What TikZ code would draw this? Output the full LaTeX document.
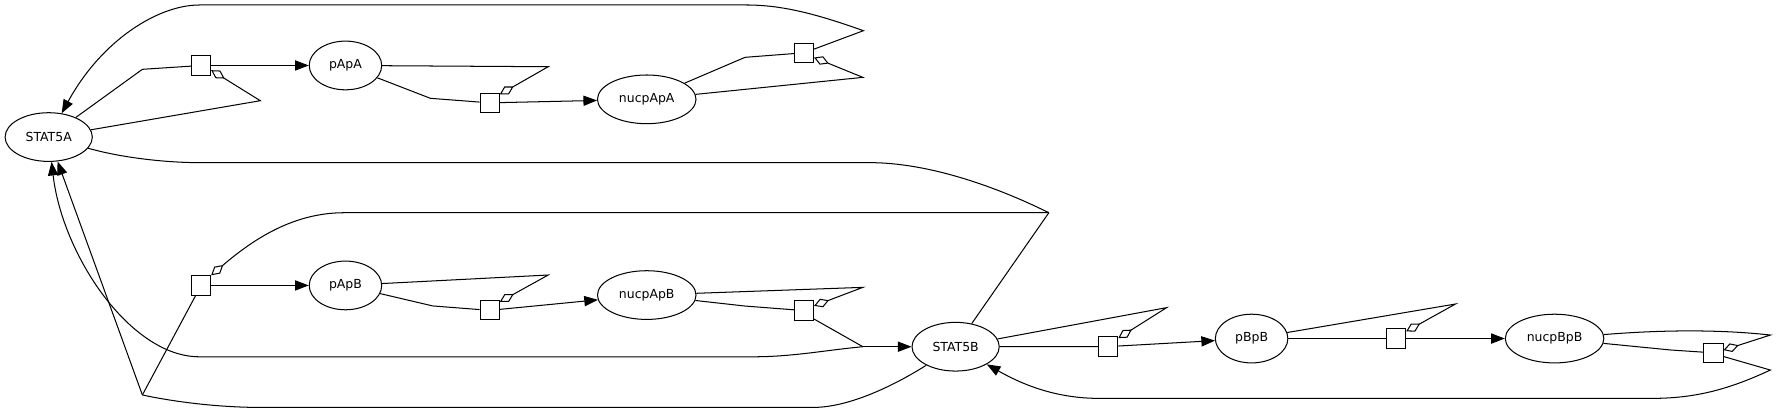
\documentclass[tikz,border=0pt]{standalone}
\usepackage{fontspec}
\setmainfont{DejaVu Sans}
\usetikzlibrary{arrows.meta,shapes.geometric,positioning}
\begin{document}
\begin{tikzpicture}[x=1pt,y=-1pt,line width=0.9pt,node distance=127.5pt,
    >={Triangle[length=12pt,width=9pt]},
    species/.style={ellipse,draw,minimum height=43pt,inner sep=0pt,font=\fontsize{11}{13}\selectfont},
    reaction/.style={rectangle,draw,minimum size=17pt,inner sep=0pt},
    modifier/.style={-{Diamond[open,length=14pt,width=8pt]}}]
  \useasboundingbox (0,0) rectangle (1568,365);
  \node (STAT5A) [species,minimum width=77pt] at (43,121) {STAT5A};
  \node (sq1) [reaction] at (177.5,57.8) {};
  \node (pApA) [species,minimum width=64pt,right of=sq1] {pApA};
  \node (sq2) [reaction] at (432.3,90.8) {};
  \node (nucpApA) [species,minimum width=87pt] at (571,87.7) {nucpApA};
  \node (sq3) [reaction] at (709.8,46.6) {};
  \node (sq4) [reaction] at (177.5,252) {};
  \node (pApB) [species,minimum width=64pt,right of=sq4] {pApB};
  \node (sq5) [reaction] at (432.3,274) {};
  \node (nucpApB) [species,minimum width=87pt] at (571,260.5) {nucpApB};
  \node (sq6) [reaction] at (709.8,274.2) {};
  \node (STAT5B) [species,minimum width=77pt] at (843.7,306.1) {STAT5B};
  \node (sq7) [reaction] at (978.4,306) {};
  \node (pBpB) [species,minimum width=64pt] at (1105,298.9) {pBpB};
  \node (sq8) [reaction,right of=pBpB] {};
  \node (nucpBpB) [species,minimum width=87pt] at (1372.5,298.9) {nucpBpB};
  \node (sq9) [reaction] at (1512.7,311.5) {};
  \coordinate (k1) at (125.7,61.2);
  \coordinate (t1) at (229.8,88.9);
  \coordinate (k2) at (380,86.8);
  \coordinate (t2) at (484,58.9);
  \coordinate (k3) at (657.8,50.6);
  \coordinate (t3) at (761.8,68.3);
  \coordinate (tT) at (762.3,27.1);
  \coordinate (k5) at (382,270.1);
  \coordinate (t5) at (484,242.8);
  \coordinate (k6) at (657.8,270.2);
  \coordinate (t6) at (761.8,253.7);
  \coordinate (jA) at (125.7,348.7);
  \coordinate (jB) at (761.8,306.1);
  \coordinate (jC) at (926,187.8);
  \coordinate (t7) at (1030,271.6);
  \coordinate (t8) at (1285,268.4);
  \coordinate (k9) at (1475,309);
  \coordinate (t9) at (1563,295.8);
  \coordinate (b9) at (1563,326.7);
  \path[->] (sq1) edge (pApA)
    (sq2) edge (nucpApA)
    (sq4) edge (pApB)
    (sq5) edge (nucpApB)
    (jB) edge (STAT5B)
    (sq7) edge (pBpB)
    (sq8) edge (nucpBpB);
  \draw (STAT5A) -- (k1) -- (sq1);
  \draw[modifier] (STAT5A) -- (t1) -- (sq1.-25);
  \draw (pApA) -- (k2) -- (sq2);
  \draw[modifier] (pApA) -- (t2) -- (sq2.40);
  \draw (nucpApA) -- (k3) -- (sq3);
  \draw[modifier] (nucpApA) -- (t3) -- (sq3.-25);
  \draw[->] (sq3.20) -- (tT) .. controls (720,12) and (690,4.4) .. (659,4.4) -- (176,4.4) .. controls (140,4.4) and (90,35) .. (STAT5A);
  \draw (STAT5A) .. controls (110,140) and (150,143.6) .. (176,143.6) -- (768,143.6) .. controls (820,143.6) and (880,165) .. (jC);
  \draw (STAT5B) -- (jC);
  \draw[modifier] (jC) -- (304,187.8) .. controls (260,187.8) and (225,210) .. (sq4.45);
  \draw (sq4) -- (jA);
  \draw[->] (jA) -- (STAT5A);
  \draw (STAT5B) .. controls (790,340) and (750,359.7) .. (718,359.7) -- (230,359.7) .. controls (190,359.7) and (150,354) .. (jA);
  \draw[->] (jB) .. controls (730,309) and (700,315) .. (665,315) -- (176,315) .. controls (115,315) and (55,225) .. (STAT5A);
  \draw (pApB) -- (k5) -- (sq5);
  \draw[modifier] (pApB) -- (t5) -- (sq5.40);
  \draw (nucpApB) -- (k6) -- (sq6);
  \draw[modifier] (nucpApB) -- (t6) -- (sq6.25);
  \draw (sq6.-40) -- (jB);
  \draw (STAT5B) -- (sq7);
  \draw[modifier] (STAT5B) -- (t7) -- (sq7.40);
  \draw (pBpB) -- (sq8);
  \draw[modifier] (pBpB) -- (t8) -- (sq8.35);
  \draw (nucpBpB) -- (k9) -- (sq9);
  \draw[modifier] (nucpBpB) .. controls (1470,291) and (1520,291) .. (t9) -- (sq9.15);
  \draw[->] (sq9.-20) -- (b9) .. controls (1530,342) and (1500,351.7) .. (1459,351.7) -- (970,351.7) .. controls (930,351.7) and (900,338) .. (STAT5B);
\end{tikzpicture}
\end{document}
